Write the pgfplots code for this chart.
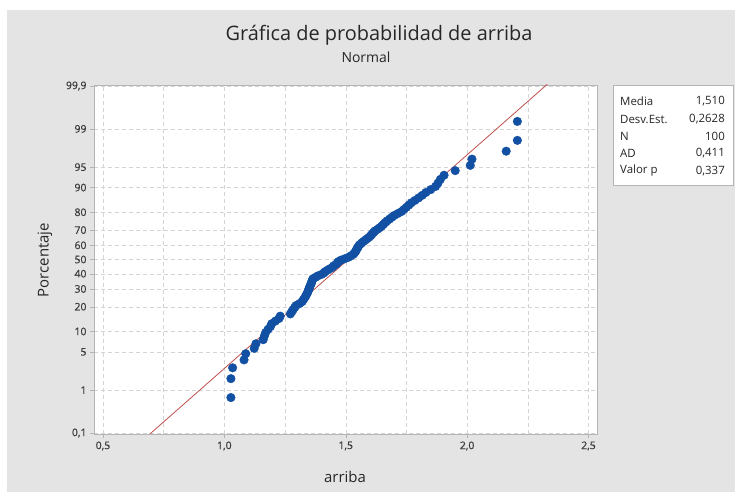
\documentclass[border=0pt]{standalone}
\usepackage{pgfplots}
\pgfplotsset{compat=1.18}
\usepackage{fontspec}
\setmainfont{Open Sans}
\newfontfamily\tickfont{Open Sans}[FakeBold=0.6]
\definecolor{bggray}{HTML}{E4E4E4}
\definecolor{framegray}{HTML}{B4B4B4}
\definecolor{gridgray}{HTML}{D4D4D4}
\definecolor{labelgray}{HTML}{3A3A3A}
\definecolor{ptblue}{HTML}{1150A3}
\definecolor{fitred}{HTML}{C0504D}

% probability plot: y values are normal scores of the plotting positions
\pgfplotstableread{
x z
1.027 -2.459
1.027 -2.122
1.034 -1.929
1.081 -1.788
1.088 -1.677
1.123 -1.583
1.130 -1.501
1.160 -1.428
1.165 -1.361
1.170 -1.301
1.180 -1.245
1.190 -1.193
1.195 -1.143
1.210 -1.097
1.225 -1.052
1.230 -1.009
1.272 -0.969
1.278 -0.930
1.283 -0.892
1.290 -0.855
1.295 -0.820
1.310 -0.785
1.320 -0.752
1.325 -0.719
1.330 -0.687
1.335 -0.656
1.338 -0.625
1.342 -0.595
1.345 -0.566
1.347 -0.536
1.350 -0.508
1.352 -0.480
1.355 -0.452
1.358 -0.424
1.360 -0.397
1.362 -0.370
1.365 -0.344
1.375 -0.318
1.385 -0.292
1.400 -0.266
1.410 -0.240
1.415 -0.215
1.425 -0.189
1.435 -0.164
1.445 -0.139
1.450 -0.113
1.460 -0.088
1.465 -0.062
1.470 -0.037
1.480 -0.012
1.495 0.012
1.510 0.037
1.520 0.062
1.530 0.088
1.535 0.113
1.540 0.139
1.543 0.164
1.546 0.189
1.550 0.215
1.553 0.240
1.558 0.266
1.565 0.292
1.572 0.318
1.580 0.344
1.588 0.370
1.596 0.397
1.603 0.424
1.608 0.452
1.614 0.480
1.620 0.508
1.630 0.536
1.640 0.566
1.648 0.595
1.655 0.625
1.662 0.656
1.670 0.687
1.680 0.719
1.690 0.752
1.700 0.785
1.715 0.820
1.730 0.855
1.740 0.892
1.750 0.930
1.760 0.969
1.770 1.009
1.785 1.052
1.800 1.097
1.815 1.143
1.830 1.193
1.850 1.245
1.870 1.301
1.880 1.361
1.890 1.428
1.905 1.501
1.951 1.583
2.013 1.677
2.020 1.788
2.161 1.929
2.207 2.122
2.207 2.459
}\datatable

\begin{document}
\begin{tikzpicture}
\useasboundingbox (0,0) rectangle (740bp,499bp);
\fill[white] (0,0) rectangle (740bp,499bp);
\fill[bggray] (7bp,7bp) rectangle (735bp,489bp);

\begin{axis}[
  at={(94bp,65bp)}, anchor=south west,
  scale only axis, width=503bp, height=349bp,
  xmin=0.463, xmax=2.535, ymin=-3.108, ymax=3.108,
  axis background/.style={fill=white},
  axis line style={framegray},
  xtick={0.5,1,1.5,2,2.5},
  xticklabels={{0,5},{1,0},{1,5},{2,0},{2,5}},
  minor xtick={0.75,1.25,1.75,2.25},
  ytick={-3.0902,-2.3263,-1.6449,-1.2816,-0.8416,-0.5244,-0.2533,0,0.2533,0.5244,0.8416,1.2816,1.6449,2.3263,3.0902},
  yticklabels={{0,1},1,5,10,20,30,40,50,60,70,80,90,95,99,{99,9}},
  xmajorgrids, xminorgrids, ymajorgrids,
  major grid style={gridgray, dash pattern=on 4bp off 3bp},
  minor grid style={gridgray, dash pattern=on 4bp off 3bp},
  tick align=outside, xtick pos=bottom, ytick pos=left,
  major tick length=4bp, minor tick length=0bp,
  tick style={framegray},
  tick label style={font=\tickfont\fontsize{10.5}{12}\selectfont, text=labelgray},
  clip=true,
]
\addplot[fitred, line width=0.8pt] coordinates {(0.690,-3.12) (2.330,3.12)};
\addplot[only marks, mark=*, mark size=4.3bp, ptblue,
  mark options={draw=none, fill=ptblue}] table[x=x, y=z] {\datatable};
\end{axis}

\node[text=black!85, font=\fontsize{20}{22}\selectfont] at (379bp,464bp) {Gráfica de probabilidad de arriba};
\node[text=black!85, font=\fontsize{14}{16}\selectfont] at (366bp,442bp) {Normal};
\node[text=black!85, font=\fontsize{15}{17}\selectfont] at (345bp,22bp) {arriba};
\node[text=black!85, font=\fontsize{15}{17}\selectfont, rotate=90] at (45bp,239bp) {Porcentaje};

\draw[framegray, fill=white] (613bp,314bp) rectangle (733bp,414bp);
\begin{scope}[every node/.style={font=\fontsize{11.5}{13}\selectfont, text=black!85, inner sep=0pt}]
\node[anchor=west] at (620bp,398bp) {Media};
\node[anchor=west] at (620bp,380bp) {Desv.Est.};
\node[anchor=west] at (620bp,363bp) {N};
\node[anchor=west] at (620bp,346bp) {AD};
\node[anchor=west] at (620bp,328bp) {Valor p};
\node[anchor=east] at (725bp,398bp) {1,510};
\node[anchor=east] at (725bp,380bp) {0,2628};
\node[anchor=east] at (725bp,363bp) {100};
\node[anchor=east] at (725bp,346bp) {0,411};
\node[anchor=east] at (725bp,328bp) {0,337};
\end{scope}
\end{tikzpicture}
\end{document}
